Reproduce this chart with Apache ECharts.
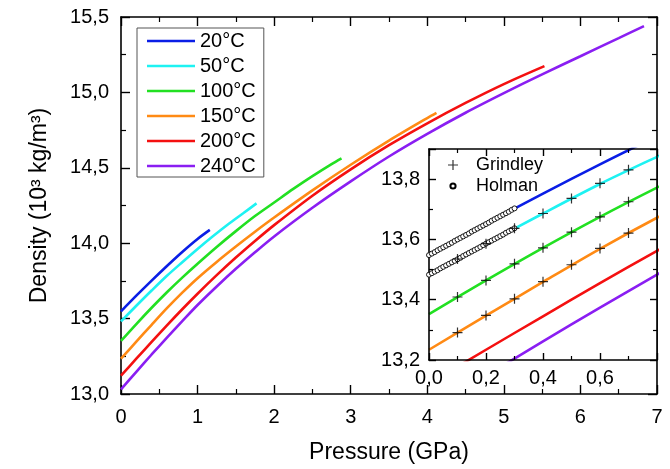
<!DOCTYPE html>
<html>
<head>
<meta charset="utf-8">
<script src="https://cdn.jsdelivr.net/npm/echarts@6/dist/echarts.min.js"></script>
<style>html,body{margin:0;padding:0;background:#fff;}#c{width:670px;height:469px;}</style>
</head>
<body>
<div id="c"></div>
<script>
// ---- data ----
const temps = ['20°C', '50°C', '100°C', '150°C', '200°C', '240°C'];
const P20 = [0, 0.2, 0.4, 0.6, 0.8, 1.0, 1.16];
const D20 = [13.548, 13.652, 13.752, 13.849, 13.942, 14.028, 14.088];
const P50 = [0, 0.2, 0.4, 0.6, 0.8, 1.0, 1.2, 1.4, 1.6, 1.77];
const D50 = [13.482, 13.585, 13.686, 13.784, 13.874, 13.962, 14.046, 14.126, 14.200, 14.264];
const P100 = [0, 0.2, 0.4, 0.6, 0.8, 1.0, 1.25, 1.5, 1.75, 2.0, 2.25, 2.5, 2.75, 2.88];
const D100 = [13.352, 13.464, 13.572, 13.675, 13.772, 13.864, 13.975, 14.080, 14.180, 14.270, 14.360, 14.445, 14.525, 14.563];
const P150 = [0, 0.2, 0.4, 0.6, 0.8, 1.0, 1.25, 1.5, 1.75, 2.0, 2.5, 3.0, 3.5, 4.0, 4.12];
const D150 = [13.234, 13.347, 13.459, 13.569, 13.672, 13.768, 13.876, 13.978, 14.076, 14.170, 14.350, 14.520, 14.680, 14.830, 14.864];
const P200 = [0, 0.2, 0.4, 0.6, 0.8, 1.0, 1.25, 1.5, 1.75, 2.0, 2.5, 3.0, 3.5, 4.0, 4.5, 5.0, 5.53];
const D200 = [13.122, 13.234, 13.345, 13.455, 13.562, 13.665, 13.788, 13.905, 14.015, 14.120, 14.315, 14.490, 14.650, 14.795, 14.930, 15.055, 15.174];
const P240 = [0, 0.2, 0.4, 0.6, 0.8, 1.0, 1.25, 1.5, 1.75, 2.0, 2.5, 3.0, 3.5, 4.0, 4.5, 5.0, 5.5, 6.0, 6.5, 6.83];
const D240 = [13.030, 13.147, 13.262, 13.374, 13.483, 13.590, 13.713, 13.830, 13.940, 14.045, 14.235, 14.410, 14.575, 14.725, 14.865, 14.995, 15.120, 15.240, 15.360, 15.440];

// Grindley (crosses) at 0.1 ... 0.7 GPa
const grindleyP = [0.1, 0.2, 0.3, 0.4, 0.5, 0.6, 0.7];
const grindley50 = [13.535, 13.586, 13.637, 13.686, 13.736, 13.786, 13.831];
const grindley100 = [13.409, 13.464, 13.519, 13.572, 13.624, 13.675, 13.725];
const grindley150 = [13.291, 13.348, 13.403, 13.460, 13.516, 13.570, 13.621];

// Holman (open circles), 0 ... 0.3 GPa every 0.01
const holmanP = [0, 0.01, 0.02, 0.03, 0.04, 0.05, 0.06, 0.07, 0.08, 0.09, 0.1, 0.11, 0.12, 0.13, 0.14, 0.15, 0.16, 0.17, 0.18, 0.19, 0.2, 0.21, 0.22, 0.23, 0.24, 0.25, 0.26, 0.27, 0.28, 0.29, 0.3];
const holman20 = [13.548, 13.553, 13.558, 13.564, 13.569, 13.574, 13.579, 13.584, 13.589, 13.595, 13.600, 13.605, 13.610, 13.615, 13.620, 13.626, 13.631, 13.636, 13.641, 13.646, 13.651, 13.656, 13.662, 13.667, 13.672, 13.677, 13.682, 13.687, 13.692, 13.698, 13.703];
const holman50 = [13.483, 13.488, 13.493, 13.498, 13.504, 13.509, 13.514, 13.519, 13.524, 13.529, 13.534, 13.539, 13.545, 13.550, 13.555, 13.560, 13.565, 13.570, 13.575, 13.581, 13.586, 13.591, 13.596, 13.601, 13.606, 13.611, 13.616, 13.622, 13.627, 13.632, 13.637];

// ---- build ----
const colors = ['#0a1ee6', '#1ef2f2', '#22e022', '#ff8a14', '#f41010', '#8a1ef2'];
const curves = [[P20, D20], [P50, D50], [P100, D100], [P150, D150], [P200, D200], [P240, D240]];
const zip = (xs, ys) => xs.map((x, i) => [x, ys[i]]);
const FONT = '"Liberation Sans", Arial, sans-serif';
const fmt1 = v => v.toFixed(1).replace('.', ',');

const plusPath = 'path://M4.4,0 h1.2 v4.4 h4.4 v1.2 h-4.4 v4.4 h-1.2 v-4.4 h-4.4 v-1.2 h4.4 z';
const plusIcon = 'path://M0,0 M12,12 M5.4,1 h1.2 v4.4 h4.4 v1.2 h-4.4 v4.4 h-1.2 v-4.4 h-4.4 v-1.2 h4.4 z';
const circIcon = 'path://M0,0 M12,12 M8.6,6 A2.6,2.6 0 1 1 3.4,6 A2.6,2.6 0 1 1 8.6,6 Z';
const lineIcon = 'path://M0,0 M48,14 M0,5.7 h48 v2.6 h-48 z';

const axLine = { show: true, onZero: false, lineStyle: { color: '#000', width: 1.6 } };
function mkAxis(extra, major, minor) {
  return Object.assign({
    type: 'value',
    axisLine: axLine,
    axisTick: { show: true, inside: true, length: major, lineStyle: { color: '#000', width: 1.4 } },
    minorTick: { show: true, splitNumber: 2, length: minor, lineStyle: { color: '#000', width: 1.2 } },
    splitLine: { show: false },
    minorSplitLine: { show: false },
    axisLabel: { show: false }
  }, extra);
}
const lbl = (extra) => Object.assign({ show: true, color: '#000', fontSize: 20, fontFamily: FONT }, extra);

const series = [];
curves.forEach((c, i) => {
  series.push({
    type: 'line', name: temps[i], xAxisIndex: 0, yAxisIndex: 0,
    data: zip(c[0], c[1]), symbol: 'none', smooth: 0.3,
    lineStyle: { color: colors[i], width: 2.6 }, itemStyle: { color: colors[i] }, z: 2
  });
});
curves.forEach((c, i) => {
  series.push({
    type: 'line', name: temps[i], xAxisIndex: 2, yAxisIndex: 2,
    data: zip(c[0], c[1]), symbol: 'none', smooth: 0.3, clip: true,
    lineStyle: { color: colors[i], width: 2.6 }, itemStyle: { color: colors[i] }, z: 3
  });
});
series.push({
  type: 'scatter', name: 'Grindley', xAxisIndex: 2, yAxisIndex: 2,
  data: zip(grindleyP, grindley50).concat(zip(grindleyP, grindley100), zip(grindleyP, grindley150)),
  symbol: plusPath, symbolSize: 10, itemStyle: { color: '#000' }, z: 6
});
series.push({
  type: 'scatter', name: 'Holman', xAxisIndex: 2, yAxisIndex: 2,
  data: zip(holmanP, holman20).concat(zip(holmanP, holman50)),
  symbol: 'circle', symbolSize: 5,
  itemStyle: { color: '#fff', borderColor: '#000', borderWidth: 0.9, opacity: 1 }, z: 5
});

const option = {
  animation: false,
  backgroundColor: '#fff',
  textStyle: { fontFamily: FONT },
  grid: [
    { left: 121, top: 17, width: 536, height: 381, show: false },
    { left: 429, top: 149, width: 228, height: 211, show: true, backgroundColor: '#fff', borderWidth: 0, z: 1 }
  ],
  xAxis: [
    mkAxis({ gridIndex: 0, min: 0, max: 7, interval: 1, position: 'bottom',
      axisLabel: lbl({ margin: 13 }),
      name: 'Pressure (GPa)', nameLocation: 'middle', nameGap: 47,
      nameTextStyle: { fontSize: 23, color: '#000', fontFamily: FONT } }, 9, 5),
    mkAxis({ gridIndex: 0, min: 0, max: 7, interval: 1, position: 'top' }, 9, 5),
    mkAxis({ gridIndex: 1, min: 0, max: 0.8, interval: 0.2, position: 'bottom', z: 4,
      axisLabel: lbl({ margin: 8, formatter: fmt1, showMaxLabel: false }) }, 7, 4),
    mkAxis({ gridIndex: 1, min: 0, max: 0.8, interval: 0.2, position: 'top', z: 4 }, 7, 4)
  ],
  yAxis: [
    mkAxis({ gridIndex: 0, min: 13, max: 15.5, interval: 0.5, position: 'left',
      axisLabel: lbl({ margin: 12, formatter: fmt1 }),
      name: 'Density (10³ kg/m³)', nameLocation: 'middle', nameGap: 70,
      nameTextStyle: { fontSize: 23, color: '#000', fontFamily: FONT } }, 9, 5),
    mkAxis({ gridIndex: 0, min: 13, max: 15.5, interval: 0.5, position: 'right' }, 9, 5),
    mkAxis({ gridIndex: 1, min: 13.2, max: 13.9, interval: 0.2, position: 'left', z: 4,
      axisLabel: lbl({ margin: 9, formatter: fmt1, showMaxLabel: false }) }, 7, 4),
    mkAxis({ gridIndex: 1, min: 13.2, max: 13.9, interval: 0.2, position: 'right', z: 4 }, 7, 4)
  ],
  legend: [
    {
      data: temps.map(t => ({ name: t, icon: lineIcon })),
      orient: 'vertical', left: 137, top: 28,
      itemWidth: 48, itemHeight: 14, itemGap: 5,
      padding: [3, 8, 1, 10],
      borderColor: '#555', borderWidth: 1, backgroundColor: '#fff',
      textStyle: { fontSize: 20, color: '#000', fontFamily: FONT },
      selectedMode: false
    },
    {
      data: [{ name: 'Grindley', icon: plusIcon }, { name: 'Holman', icon: circIcon }],
      orient: 'vertical', left: 446, top: 156, padding: 0,
      itemWidth: 12, itemHeight: 12, itemGap: 3,
      textStyle: { fontSize: 18, color: '#000', fontFamily: FONT, padding: [0, 0, 0, 12] },
      selectedMode: false, z: 10
    }
  ],
  series: series
};

const chart = echarts.init(document.getElementById('c'), null, { renderer: 'canvas' });
chart.setOption(option);
</script>
</body>
</html>
